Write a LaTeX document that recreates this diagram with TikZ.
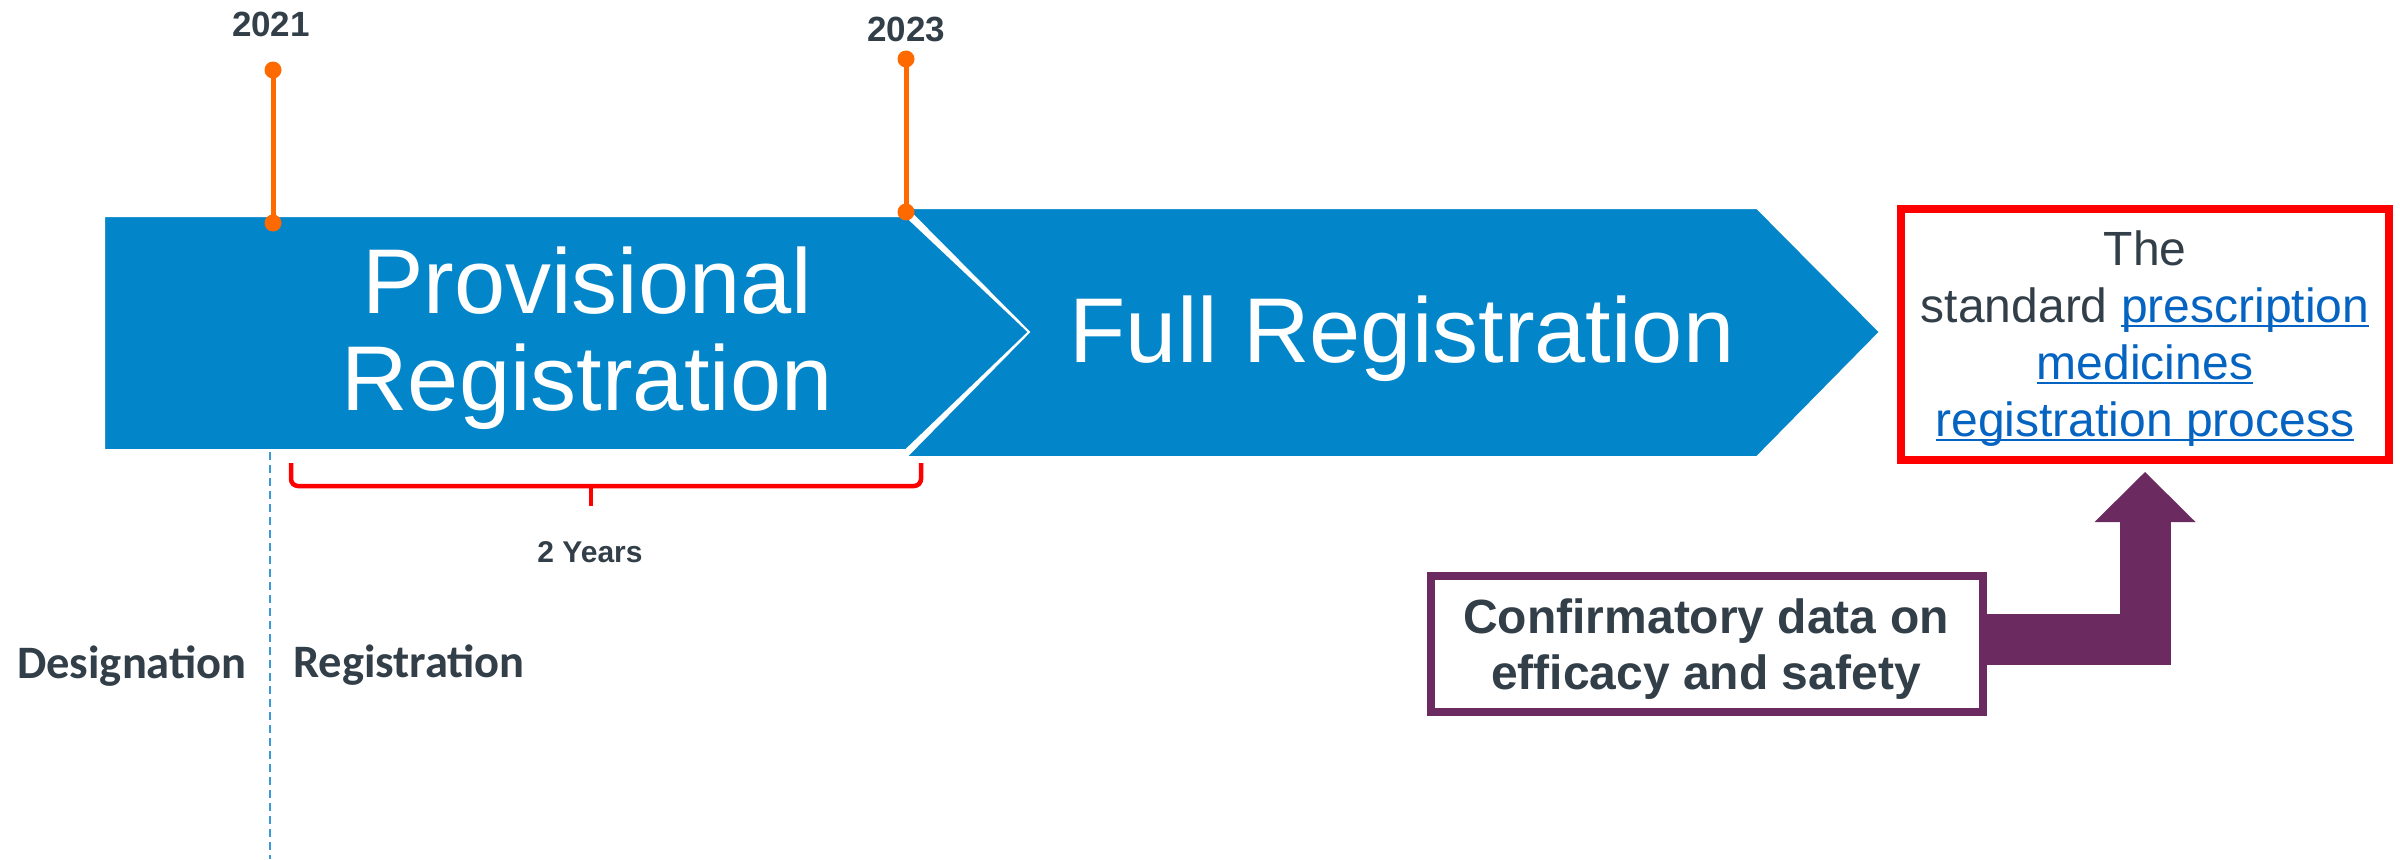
\documentclass[tikz,border=0pt]{standalone}
\usepackage{fontspec}
\setmainfont{Liberation Sans}
\newfontfamily\calfont{Carlito}
\usetikzlibrary{arrows.meta,calc}
\definecolor{chev}{HTML}{0385CA}
\definecolor{pinorange}{HTML}{FF6A00}
\definecolor{ink}{HTML}{333F48}
\definecolor{lnkblue}{HTML}{0563C1}
\definecolor{plum}{HTML}{6C2B60}
\definecolor{dashblue}{HTML}{3A9AD9}
\newcommand\lnk[1]{{\color{lnkblue}\setbox0\hbox{#1}\rlap{\rule[-5pt]{\wd0}{2.5pt}}\box0}}
\tikzset{
  chevron/.style={fill=chev, draw=white, line width=2pt, line join=miter},
  bigtext/.style={text=white, font=\fontsize{92}{97}\selectfont, align=center, inner sep=0pt, anchor=base},
  year/.style={text=ink, font=\bfseries\fontsize{35}{40}\selectfont, inner sep=0pt, anchor=base},
  pinline/.style={draw=pinorange, line width=5pt},
  pindot/.style={fill=pinorange},
  phase/.style={text=ink, font=\calfont\bfseries\fontsize{46.5}{50}\selectfont, inner sep=0pt, anchor=base},
  bracket/.style={draw=red, line width=4.5pt, rounded corners=7pt},
  stdbox/.style={draw=red, line width=8pt, minimum width=488pt, minimum height=251.5pt, inner sep=0pt},
  stdtext/.style={text=ink, font=\fontsize{48}{57}\selectfont, align=center, inner sep=0pt, anchor=base},
  confbox/.style={draw=plum, line width=8pt, fill=white, minimum width=552pt, minimum height=136pt, inner sep=0pt},
  conftext/.style={text=ink, font=\bfseries\fontsize{48}{56}\selectfont, align=center, inner sep=0pt, anchor=base},
  bigarrow/.style={draw=plum, line width=51pt, line join=miter,
     -{Triangle[width=101pt,length=50pt,line width=0pt]}, shorten >=8pt}
}
\begin{document}
\begin{tikzpicture}[x=1pt,y=-1pt]
\useasboundingbox (0,0) rectangle (2400,859);
\fill[white] (0,0) rectangle (2400,859);

% dashed divider
\coordinate (dtop) at (270,452);
\coordinate (dbot) at (270,859);
\draw[dashblue, line width=2pt, dash pattern=on 8pt off 5pt] (dtop) -- (dbot);

% chevrons
\draw[chevron] (104,216) -- (906,216) -- (1029,332) -- (906,450) -- (104,450) -- cycle;
\draw[chevron] (906,208) -- (1757,208) -- (1880,332) -- (1757,457) -- (906,457) -- (1029,332) -- cycle;
\node[bigtext] (prov) at (587,410) {Provisional\\Registration};
\node[bigtext] (full) at (1402,362) {Full Registration};

% year pins
\node[year] (y2021) at (271,37) {2021};
\node[year] (y2023) at (906,42) {2023};
\coordinate (p21t) at (273,70);
\coordinate (p21b) at (273,223);
\coordinate (p23t) at (906,59);
\coordinate (p23b) at (906,212);
\draw[pinline] (p21t) -- (p21b);
\draw[pinline] (p23t) -- (p23b);
\fill[pindot] (p21t) circle (8.5);
\fill[pindot] (p21b) circle (8.5);
\fill[pindot] (p23t) circle (8.5);
\fill[pindot] (p23b) circle (8.5);

% bracket
\coordinate (bl) at (291,463);
\coordinate (br) at (921,463);
\coordinate (bm) at (591,506);
\draw[bracket] (bl) -- (291,486) -- (921,486) -- (br);
\draw[bracket] (591,484) -- (bm);
\node[year, font=\bfseries\fontsize{30}{34}\selectfont] (years) at (590,562) {2 Years};

% phase labels
\node[phase] (desig) at (132,678) {Designation};
\node[phase] (regis) at (409,677) {Registration};

% standard process box
\node[stdbox] (std) at (2145,334.25) {};
\node[stdtext] (stdtxt) at (2145,436) {The\\standard \lnk{prescription}\\\lnk{medicines}\\\lnk{registration process}};

% confirmatory box and arrow
\node[confbox] (conf) at (1707,644) {};
\node[conftext] (conftxt) at (1706,689) {Confirmatory data on\\efficacy and safety};
\draw[bigarrow] ($(conf.east)+(0,-4.5)$) -| (std.south);
\end{tikzpicture}
\end{document}
